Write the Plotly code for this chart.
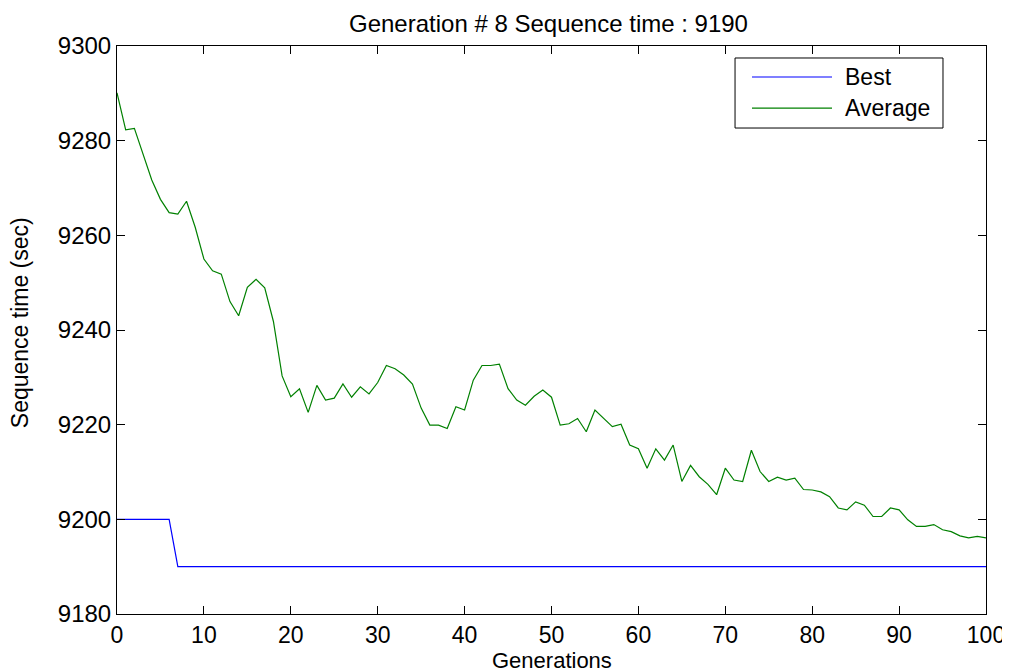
import plotly.graph_objects as go

generations = list(range(0, 101))

best = [9200] * 7 + [9190] * 94

average = [
    9290.1, 9282.3, 9282.6, 9277.0, 9271.7, 9267.6, 9264.8, 9264.5, 9267.2, 9261.7,
    9255.0, 9252.5, 9251.8, 9246.0, 9243.0, 9249.0, 9250.7, 9248.9, 9241.8, 9230.3,
    9225.9, 9227.6, 9222.6, 9228.3, 9225.2, 9225.6, 9228.6, 9225.8, 9228.0, 9226.5,
    9228.9, 9232.5, 9231.8, 9230.5, 9228.6, 9223.5, 9219.9, 9219.9, 9219.2, 9223.8,
    9223.1, 9229.4, 9232.5, 9232.5, 9232.8, 9227.6, 9225.2, 9224.1, 9226.0, 9227.3,
    9225.8, 9219.9, 9220.2, 9221.3, 9218.5, 9223.1, 9221.3, 9219.6, 9220.1, 9215.7,
    9214.9, 9210.8, 9214.9, 9212.5, 9215.7, 9208.0, 9211.4, 9209.0, 9207.4, 9205.2,
    9210.8, 9208.3, 9208.0, 9214.6, 9210.1, 9208.0, 9208.9, 9208.3, 9208.7, 9206.3,
    9206.2, 9205.8, 9204.8, 9202.4, 9202.0, 9203.7, 9203.0, 9200.6, 9200.6, 9202.4,
    9202.0, 9199.9, 9198.5, 9198.5, 9198.9, 9197.8, 9197.4, 9196.5, 9196.1, 9196.4,
    9196.1,
]

x_ticks = [0, 10, 20, 30, 40, 50, 60, 70, 80, 90, 100]
y_ticks = [9180, 9200, 9220, 9240, 9260, 9280, 9300]

title_text = "Generation # 8 Sequence time : 9190"
x_label = "Generations"
y_label = "Sequence time (sec)"
series_names = ["Best", "Average"]
series_colors = ["#0000FF", "#008000"]

FONT = "Liberation Sans, Arial, Helvetica, sans-serif"

fig = go.Figure()
fig.add_trace(go.Scatter(x=generations, y=best, mode="lines", name=series_names[0],
                         line=dict(color=series_colors[0], width=1.2), showlegend=False))
fig.add_trace(go.Scatter(x=generations, y=average, mode="lines", name=series_names[1],
                         line=dict(color=series_colors[1], width=1.2), showlegend=False))

axis_common = dict(
    showline=True, linecolor="black", linewidth=1, mirror="allticks",
    ticks="inside", ticklen=8, tickwidth=1, tickcolor="black",
    showgrid=False, zeroline=False, automargin=False,
    ticklabeloverflow="allow",
)

fig.update_xaxes(range=[0, 100], tickvals=x_ticks, ticktext=[str(v) for v in x_ticks],
                 tickfont=dict(family=FONT, size=23, color="black"), **axis_common)
fig.update_yaxes(range=[9180, 9300], tickvals=y_ticks, ticktext=[str(v) for v in y_ticks],
                 tickfont=dict(family=FONT, size=24, color="black"), **axis_common)

# custom legend box (paper coordinates)
lx0, lx1, ly0, ly1 = 0.7112, 0.9505, 0.8556, 0.9789
row_y = [0.9454, 0.8908]
shapes = [dict(type="rect", xref="paper", yref="paper", x0=lx0, x1=lx1, y0=ly0, y1=ly1,
               line=dict(color="black", width=1), fillcolor="white", layer="above")]
annotations = []
for name, color, yy in zip(series_names, series_colors, row_y):
    shapes.append(dict(type="line", xref="paper", yref="paper", x0=0.7307, x1=0.8228, y0=yy, y1=yy,
                       line=dict(color=color, width=1.2), layer="above"))
    annotations.append(dict(xref="paper", yref="paper", x=0.8354, y=yy, text=name, showarrow=False,
                            xanchor="left", yanchor="middle",
                            font=dict(family=FONT, size=23, color="black")))

# title and axis labels
annotations.append(dict(xref="paper", yref="paper", x=0.497, y=1.0669, text=title_text,
                        showarrow=False, xanchor="center", yanchor="top",
                        font=dict(family=FONT, size=24, color="black")))
annotations.append(dict(xref="paper", yref="paper", x=0.5, y=-0.0827, text=x_label,
                        showarrow=False, xanchor="center", yanchor="middle",
                        font=dict(family=FONT, size=22, color="black")))
annotations.append(dict(xref="paper", yref="paper", x=-0.1116, y=0.512, text=y_label,
                        showarrow=False, xanchor="center", yanchor="middle", textangle=-90,
                        font=dict(family=FONT, size=23, color="black")))

# page body has an 8px margin; plot area placed to match the reference frame
fig.update_layout(
    width=1002, height=664,
    margin=dict(l=109, r=24, t=38, b=58),
    paper_bgcolor="white", plot_bgcolor="white",
    shapes=shapes, annotations=annotations,
    showlegend=False,
)

fig.write_html("out.html")
